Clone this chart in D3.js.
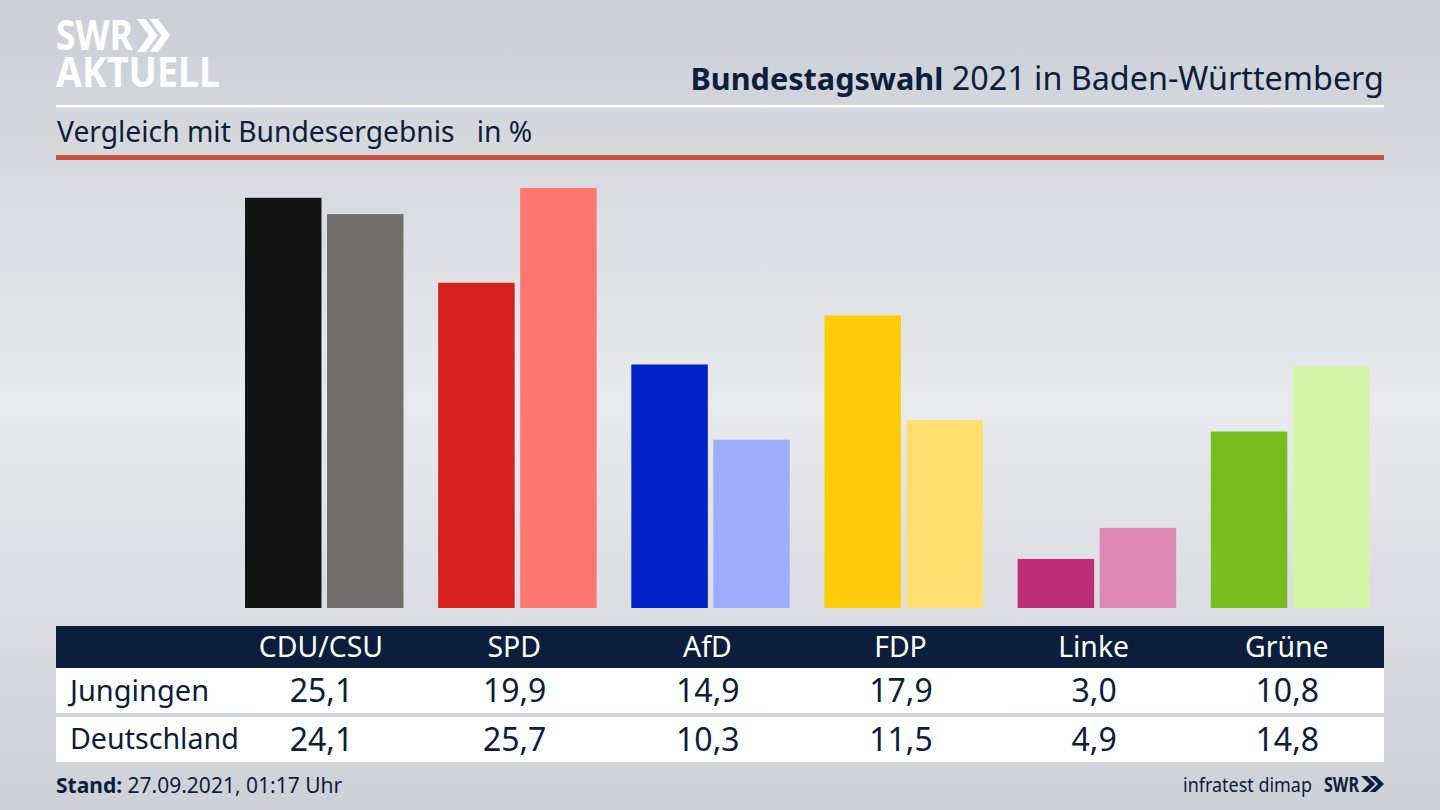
<!DOCTYPE html>
<html>
<head>
<meta charset="utf-8">
<script src="https://cdn.jsdelivr.net/npm/d3@7"></script>
<style>
  html, body { margin: 0; padding: 0; background: #d5d8de; }
  svg { display: block; }
  text { font-family: "Noto Sans", sans-serif; fill: #0b1e3c; }
</style>
</head>
<body>
<svg id="chart" width="1440" height="810"></svg>
<script>
const parties = ["CDU/CSU", "SPD", "AfD", "FDP", "Linke", "Grüne"];
const regionName = "Jungingen";
const nationName = "Deutschland";
const regionValues = [25.1, 19.9, 14.9, 17.9, 3.0, 10.8];
const nationValues = [24.1, 25.7, 10.3, 11.5, 4.9, 14.8];
const regionColors = ["#141414", "#d71f1d", "#0021c8", "#ffcc0a", "#bc2f77", "#79bc1e"];
const nationColors = ["#706f6c", "#ff7570", "#9fadff", "#ffdf70", "#de88b6", "#d3f5a8"];

const fmt = v => v.toFixed(1).replace(".", ",");

const svg = d3.select("#chart");
const defs = svg.append("defs");
const grad = defs.append("linearGradient").attr("id", "bg")
  .attr("x1", 0).attr("x2", 0).attr("y1", 0).attr("y2", 1);
grad.append("stop").attr("offset", "0%").attr("stop-color", "#cbced5");
grad.append("stop").attr("offset", "50%").attr("stop-color", "#e9eaed");
grad.append("stop").attr("offset", "100%").attr("stop-color", "#cdd0d7");
svg.append("rect").attr("width", 1440).attr("height", 810).attr("fill", "url(#bg)");

// double chevron used by both logos
function chevrons(x, y, w, h, color) {
  const cw = w * 0.62, t = w * 0.38;
  [0, t].forEach(dx => {
    svg.append("path")
      .attr("d", `M${x + dx},${y} L${x + dx + cw * 0.42},${y} L${x + dx + cw},${y + h / 2} L${x + dx + cw * 0.42},${y + h} L${x + dx},${y + h} L${x + dx + cw * 0.58},${y + h / 2} Z`)
      .attr("fill", color);
  });
}

// logo
svg.append("text").attr("x", 56).attr("y", 50).attr("font-size", 42).attr("font-weight", 700)
  .attr("textLength", 77).attr("lengthAdjust", "spacingAndGlyphs").style("fill", "#fff").text("SWR");
chevrons(137, 19, 33, 33, "#fff");
svg.append("text").attr("x", 56).attr("y", 87).attr("font-size", 42).attr("font-weight", 700)
  .attr("textLength", 164).attr("lengthAdjust", "spacingAndGlyphs").style("fill", "#fff").text("AKTUELL");

// heading
const title = svg.append("text").attr("x", 1384).attr("y", 90).attr("text-anchor", "end");
title.append("tspan").attr("font-weight", 700).attr("font-size", 30.6).text("Bundestagswahl");
title.append("tspan").attr("font-size", 32.3).text(" 2021 in Baden-Württemberg");
svg.append("rect").attr("x", 56).attr("y", 105).attr("width", 1328).attr("height", 2.5).attr("fill", "#fff");
svg.append("text").attr("x", 57).attr("y", 142).attr("font-size", 28.25).attr("xml:space", "preserve")
  .text("Vergleich mit Bundesergebnis   in %");
svg.append("rect").attr("x", 56).attr("y", 155).attr("width", 1328).attr("height", 5).attr("fill", "#c9523d");

// table background goes under the party labels
svg.append("rect").attr("x", 56).attr("y", 626).attr("width", 1328).attr("height", 42).attr("fill", "#0b1e3c");
svg.append("rect").attr("x", 56).attr("y", 668).attr("width", 1328).attr("height", 45).attr("fill", "#fff");
svg.append("rect").attr("x", 56).attr("y", 717).attr("width", 1328).attr("height", 45).attr("fill", "#fff");

// bars
const x = d3.scalePoint().domain(parties).range([321, 1286.8]);
const y = d3.scaleLinear().domain([0, 25.7]).range([608, 188]);
const barW = 76.5;
const groups = svg.selectAll("g.party").data(parties).join("g").attr("class", "party");

groups.append("rect")
  .attr("x", p => x(p) - 76)
  .attr("width", barW)
  .attr("y", (p, i) => y(regionValues[i]))
  .attr("height", (p, i) => y(0) - y(regionValues[i]))
  .attr("fill", (p, i) => regionColors[i]);
groups.append("rect")
  .attr("x", p => x(p) + 6)
  .attr("width", barW)
  .attr("y", (p, i) => y(nationValues[i]))
  .attr("height", (p, i) => y(0) - y(nationValues[i]))
  .attr("fill", (p, i) => nationColors[i]);

groups.append("text").attr("x", p => x(p)).attr("y", 657).attr("text-anchor", "middle")
  .attr("font-size", 28.4).style("fill", "#fff").text(p => p);
groups.append("text").attr("x", p => x(p) + 0.5).attr("y", 702).attr("text-anchor", "middle")
  .attr("font-size", 32).text((p, i) => fmt(regionValues[i]));
groups.append("text").attr("x", p => x(p) + 0.5).attr("y", 751).attr("text-anchor", "middle")
  .attr("font-size", 32).text((p, i) => fmt(nationValues[i]));
svg.append("text").attr("x", 70).attr("y", 701).attr("font-size", 29).text(regionName);
svg.append("text").attr("x", 70).attr("y", 749).attr("font-size", 28.6).text(nationName);

// footer
const stand = svg.append("text").attr("x", 56).attr("y", 793).attr("font-size", 21);
stand.append("tspan").attr("font-weight", 700).text("Stand:");
stand.append("tspan").text(" 27.09.2021, 01:17 Uhr");
svg.append("text").attr("x", 1183).attr("y", 792).attr("font-size", 20)
  .attr("textLength", 129).attr("lengthAdjust", "spacingAndGlyphs").text("infratest dimap");
svg.append("text").attr("x", 1324).attr("y", 792).attr("font-size", 21).attr("font-weight", 700)
  .attr("textLength", 35).attr("lengthAdjust", "spacingAndGlyphs").text("SWR");
chevrons(1361, 776, 23, 16, "#0b1e3c");
</script>
</body>
</html>
